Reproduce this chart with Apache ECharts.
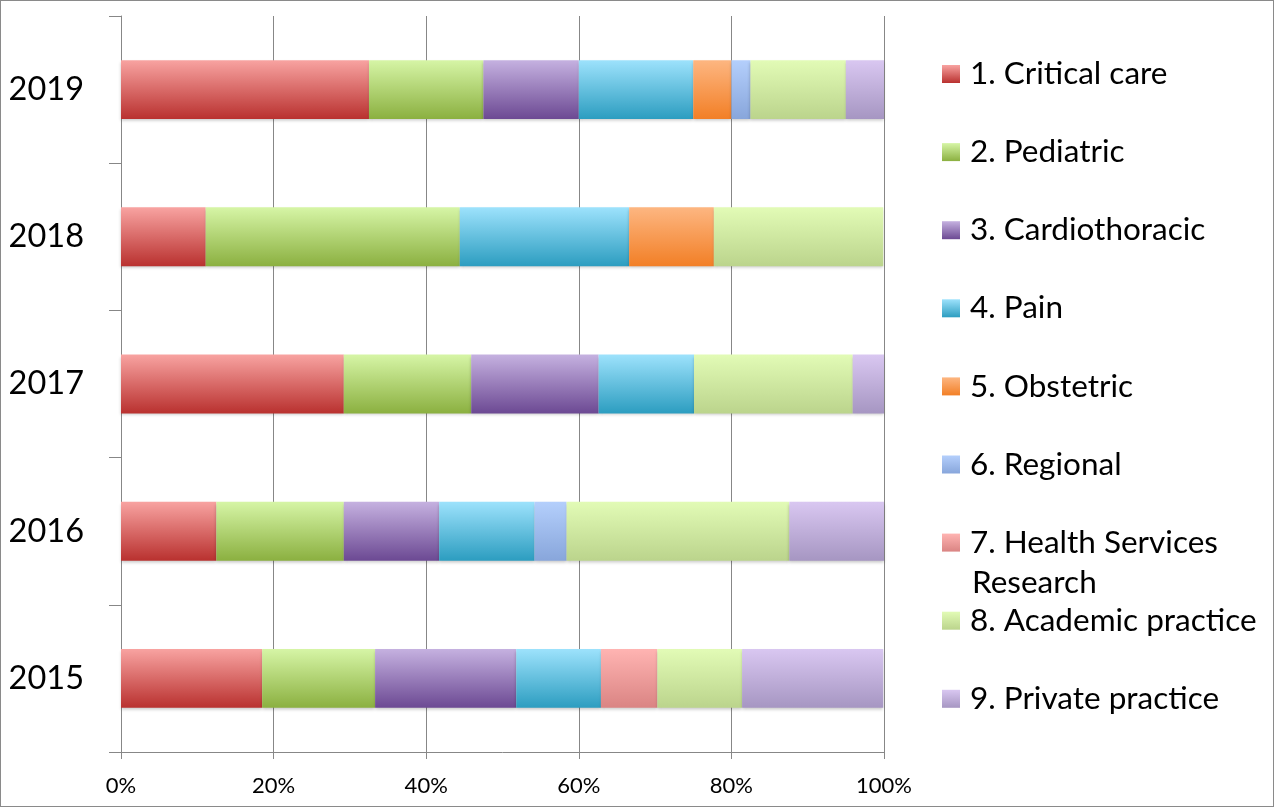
<!DOCTYPE html>
<html>
<head>
<meta charset="utf-8">
<script src="https://cdn.jsdelivr.net/npm/echarts@6/dist/echarts.min.js"></script>
<style>
    html, body { margin: 0; padding: 0; background: #fff; }
    #chart { width: 1274px; height: 807px; box-sizing: border-box; border: 1.5px solid #8a8a8a; }
</style>
</head>
<body>
<div id="chart"></div>
<script>
// categories (bottom to top) and share of each specialty, in percent
var years = ['2015', '2016', '2017', '2018', '2019'];
var seriesNames = ['1. Critical care', '2. Pediatric', '3. Cardiothoracic', '4. Pain', '5. Obstetric',
    '6. Regional', '7. Health Services Research', '8. Academic practice', '9. Private practice'];
var criticalCare = [18.5, 12.5, 29.2, 11.1, 32.5];
var pediatric = [14.8, 16.7, 16.7, 33.3, 15];
var cardiothoracic = [18.5, 12.5, 16.7, 0, 12.5];
var pain = [11.1, 12.5, 12.5, 22.2, 15];
var obstetric = [0, 0, 0, 11.1, 5];
var regional = [0, 4.2, 0, 0, 2.5];
var healthServices = [7.4, 0, 0, 0, 0];
var academic = [11.1, 29.2, 20.8, 22.2, 12.5];
var privatePractice = [18.5, 12.5, 4.2, 0, 5];
var xTicks = [0, 20, 40, 60, 80, 100];

var allValues = [criticalCare, pediatric, cardiothoracic, pain, obstetric, regional, healthServices, academic, privatePractice];

// gradient colours, top -> bottom
var topColors = ['#F8A3A1', '#D6F5A6', '#C5B1E0', '#9DE2FC', '#FDB681', '#B4CFFC', '#FFB4B2', '#E2FBB6', '#D9C7F1'];
var bottomColors = ['#B9312F', '#8BB040', '#6C4993', '#2C9DC0', '#F27F26', '#88A6DB', '#DA8483', '#BBD48C', '#A696C2'];

var fontFamily = 'Lato, "Liberation Sans", sans-serif';
var axisGray = '#878787';

var chartDom = document.getElementById('chart');
var myChart = echarts.init(chartDom);

var series = seriesNames.map(function (name, i) {
    return {
        name: name,
        type: 'bar',
        stack: 'total',
        barCategoryGap: '60%',
        data: allValues[i],
        itemStyle: {
            color: new echarts.graphic.LinearGradient(0, 0, 0, 1, [
                { offset: 0, color: topColors[i] },
                { offset: 1, color: bottomColors[i] }
            ]),
            shadowColor: 'rgba(0,0,0,0.22)',
            shadowBlur: 3,
            shadowOffsetY: 2
        },
        emphasis: { disabled: true }
    };
});

var option = {
    animation: false,
    grid: {
        left: 120,
        right: 389,
        top: 15,
        bottom: 54
    },
    legend: {
        orient: 'vertical',
        left: 936,
        top: 52,
        itemWidth: 18,
        itemHeight: 18,
        itemGap: 46.1,
        icon: 'rect',
        data: seriesNames,
        selectedMode: false,
        formatter: function (name) {
            return name === seriesNames[6] ? '7. Health Services' : name;
        },
        textStyle: {
            fontFamily: fontFamily,
            fontSize: 31.5,
            color: '#000',
            padding: [0, 0, 0, 5]
        }
    },
    graphic: [
        {
            type: 'text',
            left: 971,
            top: 566,
            style: {
                text: 'Research',
                font: '31.5px ' + fontFamily,
                fill: '#000'
            }
        }
    ],
    xAxis: {
        type: 'value',
        min: xTicks[0],
        max: xTicks[xTicks.length - 1],
        interval: 20,
        axisLine: { show: true, lineStyle: { color: axisGray } },
        axisTick: { show: true, length: 7, lineStyle: { color: axisGray } },
        splitLine: { show: true, lineStyle: { color: axisGray, width: 1 } },
        axisLabel: {
            formatter: '{value}%',
            margin: 23,
            fontFamily: fontFamily,
            fontSize: 22,
            color: '#000'
        }
    },
    yAxis: {
        type: 'category',
        data: years,
        axisLine: { show: true, lineStyle: { color: axisGray } },
        axisTick: { show: true, length: 12, lineStyle: { color: axisGray } },
        axisLabel: {
            margin: 37,
            fontFamily: fontFamily,
            fontSize: 32.5,
            color: '#000'
        }
    },
    series: series
};

option && myChart.setOption(option);
</script>
</body>
</html>
